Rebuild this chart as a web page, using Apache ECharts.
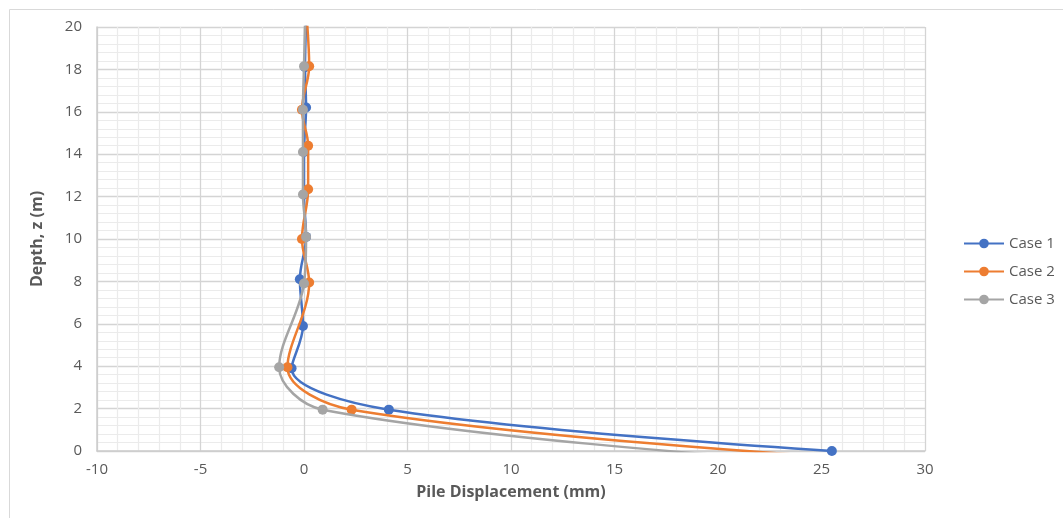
<!DOCTYPE html>
<html>
<head>
<meta charset="utf-8">
<script src="https://cdn.jsdelivr.net/npm/echarts@6/dist/echarts.min.js"></script>
<style>
html,body{margin:0;padding:0;background:#fff;}
#chart{width:1063px;height:518px;}
</style>
</head>
<body>
<div id="chart"></div>
<script>
// Data (displacement in mm, depth in m)
const case1X = [25.5, 4.1, -0.6, -0.05, -0.2, 0.1, 0.0, 0.0, 0.1, 0.05, 0.1];
const case1Z = [0, 1.95, 3.9, 5.9, 8.1, 10.1, 12.1, 14.1, 16.2, 18.1, 20.2];
const case2X = [25.0, 2.3, -0.8, 0.25, -0.1, 0.2, 0.2, -0.1, 0.25, 0.15];
const case2Z = [-0.25, 1.95, 3.95, 7.95, 10.0, 12.35, 14.4, 16.1, 18.15, 20.2];
const case3X = [21.5, 0.9, -1.2, 0.0, 0.1, -0.05, -0.05, -0.05, 0.0, 0.05];
const case3Z = [-0.3, 1.95, 3.95, 7.9, 10.1, 12.1, 14.1, 16.1, 18.15, 20.2];
const seriesNames = ['Case 1', 'Case 2', 'Case 3'];
const colors = ['#4472C4', '#ED7D31', '#A5A5A5'];
const xTicks = {min: -10, max: 30, interval: 5};
const yTicks = {min: 0, max: 20, interval: 2};

const pairs = (xs, zs) => xs.map((x, i) => [x, zs[i]]);
const allData = [pairs(case1X, case1Z), pairs(case2X, case2Z), pairs(case3X, case3Z)];

const font = 'Open Sans';
const chart = echarts.init(document.getElementById('chart'));
chart.setOption({
  animation: false,
  textStyle: {fontFamily: font},
  graphic: [{
    type: 'rect', silent: true, z: -10,
    shape: {x: 9.5, y: 9.5, width: 1100, height: 600},
    style: {fill: 'none', stroke: '#d9d9d9', lineWidth: 1}
  }],
  grid: {left: 97, right: 138, top: 27, bottom: 67, containLabel: false},
  legend: {
    orient: 'vertical', left: 958, top: 231,
    itemWidth: 40, itemHeight: 12, itemGap: 13,
    textStyle: {color: '#595959', fontSize: 15, fontFamily: font},
    data: seriesNames
  },
  xAxis: {
    type: 'value', min: xTicks.min, max: xTicks.max, interval: xTicks.interval,
    name: 'Pile Displacement (mm)', nameLocation: 'middle', nameGap: 33,
    nameTextStyle: {color: '#595959', fontSize: 16, fontWeight: 'bold', fontFamily: font},
    axisLine: {show: true, onZero: false, lineStyle: {color: '#cccccc', width: 1.5}},
    axisTick: {show: false},
    axisLabel: {color: '#595959', fontSize: 15, margin: 11, fontFamily: font},
    splitLine: {show: true, lineStyle: {color: '#d4d4d4', width: 1.3}},
    minorTick: {show: false, splitNumber: 5},
    minorSplitLine: {show: true, lineStyle: {color: '#ebebeb', width: 1.2}}
  },
  yAxis: {
    type: 'value', min: yTicks.min, max: yTicks.max, interval: yTicks.interval,
    name: 'Depth, z (m)', nameLocation: 'middle', nameGap: 52, nameRotate: 90,
    nameTextStyle: {color: '#595959', fontSize: 16, fontWeight: 'bold', fontFamily: font},
    axisLine: {show: true, onZero: false, lineStyle: {color: '#cccccc', width: 1.5}},
    axisTick: {show: false},
    axisLabel: {color: '#595959', fontSize: 15, margin: 15, fontFamily: font},
    splitLine: {show: true, lineStyle: {color: '#d4d4d4', width: 1.3}},
    minorTick: {show: false, splitNumber: 5},
    minorSplitLine: {show: true, lineStyle: {color: '#ebebeb', width: 1.2}}
  },
  series: seriesNames.map((n, i) => ({
    name: n, type: 'line', data: allData[i],
    smooth: 0.35, clip: true,
    symbol: 'circle', symbolSize: 10, showSymbol: true,
    itemStyle: {color: colors[i]},
    lineStyle: {color: colors[i], width: 2.5},
    emphasis: {disabled: true},
    z: 2 + i
  }))
});
</script>
</body>
</html>
